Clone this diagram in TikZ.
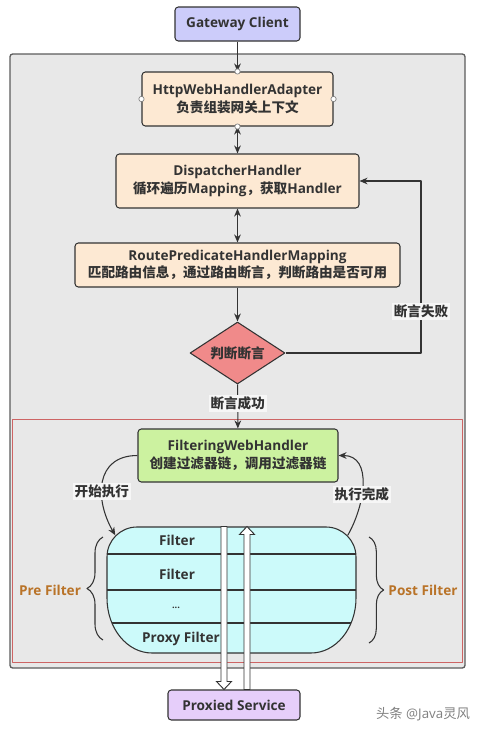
\documentclass[tikz,border=0pt]{standalone}
\usepackage{fontspec}
\setmainfont{Open Sans}
\newfontfamily\cjk{Noto Sans CJK SC}
\newcommand\zh[1]{{\cjk #1}}
\usetikzlibrary{arrows.meta,shapes.geometric,calc,decorations.pathreplacing}
\definecolor{ink}{RGB}{51,51,51}
\definecolor{frame}{RGB}{232,232,232}
\definecolor{paper}{RGB}{246,246,246}
\definecolor{rim}{RGB}{205,100,100}
\definecolor{peach}{RGB}{253,233,211}
\definecolor{lavender}{RGB}{204,204,250}
\definecolor{lilac}{RGB}{230,206,250}
\definecolor{salmon}{RGB}{240,138,138}
\definecolor{lime}{RGB}{204,242,160}
\definecolor{aqua}{RGB}{204,250,250}
\definecolor{amber}{RGB}{185,115,40}
\tikzset{
  handler/.style={draw=ink, line width=0.8pt, rounded corners=2.5pt, align=center, inner sep=0pt},
  lbl/.style={fill=paper, inner sep=1.5pt},
  port/.style={circle, draw=gray, fill=white, line width=0.5pt, inner sep=0pt, minimum size=4pt},
  hollow/.style={draw=ink, fill=white, line width=0.7pt, line join=miter},
}
\begin{document}
\begin{tikzpicture}[x=0.75pt, y=0.75pt, font=\fontsize{10.2}{13}\selectfont\bfseries, color=ink, line width=0.8pt, line join=round, >={Stealth[length=6pt,width=5pt]}]
	\useasboundingbox (0,0) rectangle (481,-732);
	% gateway frame and filter area
	\draw[fill=frame, draw=ink!80, line width=1pt, rounded corners=2pt] (10,-54) rectangle (465,-668);
	\draw[rim, line width=0.6pt] (12,-419) rectangle (462,-662);
	% handlers
	\node[handler, fill=lavender, minimum width=93.75pt, minimum height=25.5pt] (client) at (237.5,-24) {Gateway Client};
	\node[handler, fill=peach, minimum width=143.25pt, minimum height=40.5pt] (adapter) at (237.5,-99) {HttpWebHandlerAdapter\\\zh{负责组装网关上下文}};
	\node[handler, fill=peach, minimum width=182.25pt, minimum height=40.5pt] (disp) at (237.5,-181) {DispatcherHandler\\\zh{循环遍历}Mapping\zh{，获取}Handler};
	\node[handler, fill=peach, minimum width=243.75pt, minimum height=33pt] (route) at (237.5,-265) {RoutePredicateHandlerMapping\\\zh{匹配路由信息，通过路由断言，判断路由是否可用}};
	\node[diamond, draw=ink, fill=salmon, aspect=1.5, inner sep=0pt, minimum width=71.25pt, minimum height=46.5pt] (judge) at (237.5,-353) {\zh{判断断言}};
	\node[handler, fill=lime, minimum width=150pt, minimum height=39.75pt] (fwh) at (238,-455.5) {FilteringWebHandler\\\zh{创建过滤器链，调用过滤器链}};
	\node[inner sep=0pt, minimum width=186.75pt, minimum height=94.5pt] (flt) at (231.5,-590) {};
	\node[handler, fill=lilac, minimum width=99pt, minimum height=22.5pt] (prox) at (234,-705) {Proxied Service};
	% filter chain
	\fill[aqua] (107,-557) arc[start angle=180, end angle=90, radius=30] -- (326,-527) arc[start angle=90, end angle=0, radius=30] -- (356,-598) arc[start angle=0, end angle=-90, x radius=45, y radius=55] -- (152,-653) arc[start angle=270, end angle=180, x radius=45, y radius=55] -- cycle;
	\foreach \y/\l in {554/107, 590/107, 623/112}{\draw (\l,-\y) -- (463-\l,-\y);}
	\draw (107,-557) arc[start angle=180, end angle=90, radius=30] -- (326,-527) arc[start angle=90, end angle=0, radius=30] -- (356,-598) arc[start angle=0, end angle=-90, x radius=45, y radius=55] -- (152,-653) arc[start angle=270, end angle=180, x radius=45, y radius=55] -- cycle;
	\node (f1) at (177,-540) {Filter};
	\node (f2) at (177,-574) {Filter};
	\node[font=\fontsize{7}{8}\selectfont\bfseries] (f3) at (176,-608) {...};
	\node (f4) at (181,-639) {Proxy Filter};
	% request down, response up
	\path (flt.north) ++(-7.5,0) coordinate (dn) (flt.north) ++(15.5,0) coordinate (up);
	\draw[hollow] (dn) ++(-3,0) -- ++(6,0) -- ($(dn |- prox.north)+(3,8)$) -- ++(4.5,0) -- (dn |- prox.north) -- ++(-7.5,8) -- ++(4.5,0) -- cycle;
	\draw[hollow] (up |- prox.north) ++(-3,0) -- ++(6,0) -- ($(up)+(3,-8)$) -- ++(4.5,0) -- (up) -- ++(-7.5,-8) -- ++(4.5,0) -- cycle;
	% connectors
	\coordinate (loop) at (421,-181);
	\draw[->] (client) -- (adapter);
	\draw[<->] (adapter) -- (disp);
	\draw[<->] (disp) -- (route);
	\draw[->] (route) -- (judge);
	\draw[->] (judge.east) -| node[lbl, pos=0.62] {\zh{断言失败}} (loop) -- (disp.east);
	\draw[->] (judge) -- node[lbl, pos=0.43] {\zh{断言成功}} (fwh);
	\draw[->] (fwh.west) to[out=180, in=120, looseness=1.3] node[lbl, pos=0.6] {\zh{开始执行}} ($(flt.north west)+(8.8,-8.8)$);
	\draw[->] ($(flt.north east)+(-8.8,-8.8)$) to[out=60, in=0, looseness=1.1] node[lbl, pos=0.4] {\zh{执行完成}} (fwh.east);
	\foreach \a in {north,south,east,west}{\node[port] (p-\a) at (adapter.\a) {};}
	% pre / post
	\draw[decorate, decoration={brace, amplitude=12pt}] (103,-640) -- (103,-537);
	\draw[decorate, decoration={brace, amplitude=11pt}] (369,-537) -- (369,-643);
	\node[text=amber] (pre) at (50,-590) {Pre Filter};
	\node[text=amber] (post) at (423,-590) {Post Filter};
	\node[text=gray, font=\fontsize{10}{12}\selectfont] (mark) at (423,-714) {\zh{头条} @Java\zh{灵风}};
\end{tikzpicture}
\end{document}
